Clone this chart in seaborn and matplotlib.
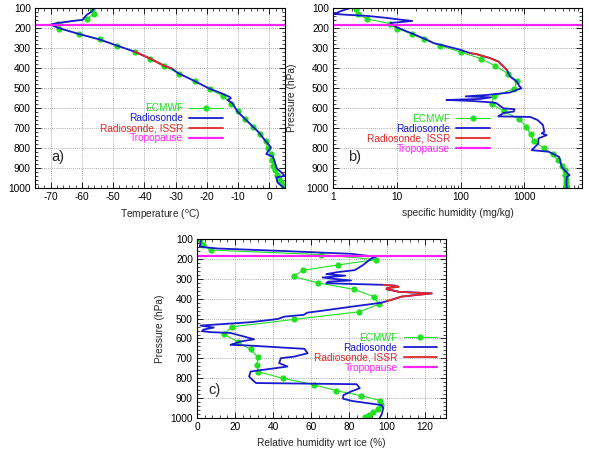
import numpy as np
import pandas as pd
import matplotlib
matplotlib.use("Agg")
import matplotlib.pyplot as plt
import seaborn as sns
from matplotlib.ticker import AutoMinorLocator, MultipleLocator, LogLocator, NullFormatter

sns.set_theme(style="white")
plt.rcParams["font.family"] = ["Liberation Sans", "DejaVu Sans"]
plt.rcParams["mathtext.fontset"] = "custom"
plt.rcParams["mathtext.rm"] = "Liberation Sans"
plt.rcParams["axes.unicode_minus"] = False

GREEN = "#22e022"
BLUE = "#1a1ad0"
RED = "#e02828"
MAGENTA = "#ff22ff"
FS = 7.3

# ECMWF model levels (hPa) and profiles
ec_p = [105, 130, 155, 178, 203, 230, 257, 288, 320, 353, 390, 428, 466, 504, 542,
        579, 617, 655, 695, 732, 767, 800, 832, 862, 888, 912, 935, 955, 972, 986, 996]
ec_temp = [-56.9, -56.2, -58.5, -67.5, -67.2, -60.8, -54.2, -48.6, -43.1, -38.3, -33.7,
           -28.9, -23.9, -19.1, -14.8, -12.2, -10.0, -7.8, -5.1, -3.0, -1.2, -0.5, 0.4,
           0.8, 1.2, 1.7, 2.5, 3.2, 3.8, 4.5, 5.0]
ec_q = [2.3, 2.5, 3.4, 7.8, 10.1, 17.3, 27, 47, 100, 205, 350, 550, 760, 690, 335,
        305, 480, 820, 1070, 1250, 1400, 2000, 2800, 3350, 3900, 4280, 4400, 4450,
        4500, 4500, 4550]
ec_rhi = [1.8, 3.0, 7.1, 65.3, 94.4, 74.1, 55.6, 50.8, 63.5, 82.6, 93.2, 95.7, 85.1,
          50.8, 18.2, 14.1, 21.5, 28.2, 32.1, 31.4, 32.1, 45.0, 61.4, 72.9, 86.5, 96.2,
          96.7, 95.3, 92.7, 90.4, 88.2]

# radiosonde temperature
rs_t_p = [98, 110, 120, 135, 150, 160, 165, 176, 183, 200, 230, 257, 288, 318, 352, 390,
          402, 427, 465, 502, 527, 545, 552, 560, 577, 618, 643, 670, 695, 718, 760, 797,
          805, 830, 843, 902, 925, 940, 947, 973, 998]
rs_temp = [-55.8, -56.5, -57.0, -58.5, -59.3, -59.8, -63.0, -68.0, -70.0, -67.5, -61.0,
           -54.5, -48.8, -43.2, -38.3, -33.6, -31.3, -29.1, -24.0, -19.4, -15.3, -12.7,
           -12.3, -13.4, -11.8, -10.2, -8.6, -6.8, -5.2, -3.6, -1.5, 0.5, 0.1, -1.0, 1.1,
           2.4, 4.0, 4.9, 2.2, 2.6, 4.5]
issr_t_p = [318, 352, 390, 402]
issr_temp = [-43.2, -38.3, -33.6, -31.3]

# radiosonde specific humidity
rs_q_p = [100, 110, 117, 125, 130, 134, 140, 150, 160, 165, 170, 175, 182, 200, 230, 260,
          276, 292, 309, 326, 331, 351, 368, 393, 410, 443, 468, 490, 502, 510, 523, 535,
          542, 547, 555, 560, 565, 573, 577, 602, 606, 618, 625, 635, 642, 645, 660, 685,
          719, 727, 736, 752, 778, 794, 811, 819, 845, 895, 920, 936, 945, 970, 1000]
rs_q = [1.9, 1.5, 1.3, 1.15, 1.05, 1.6, 3.5, 7, 12.5, 17.5, 12, 8, 8.2, 10.5, 18, 30, 38,
        61, 98, 141, 178, 290, 390, 468, 530, 596, 758, 830, 900, 750, 590, 260, 120, 300,
        200, 60, 150, 330, 367, 468, 700, 680, 470, 420, 390, 1230, 1600, 1950, 2050, 1870,
        2230, 1660, 1650, 1470, 1300, 2400, 3500, 3850, 4500, 5100, 4600, 4550, 4600]
issr_q_p = [326, 331, 351, 368, 393, 410]
issr_q = [141, 178, 290, 390, 468, 530]

# radiosonde relative humidity wrt ice
rs_rh_p = [100, 122, 138, 147, 160, 174, 189, 197, 210, 230, 256, 266, 276, 284, 293, 301,
           308, 314, 322, 330, 334, 340, 346, 352, 358, 365, 373, 389, 405, 420, 440, 461,
           470, 481, 490, 502, 518, 535, 545, 555, 563, 568, 572, 590, 604, 615, 632, 635,
           652, 674, 691, 699, 724, 741, 749, 766, 791, 808, 824, 830, 850, 866, 885, 903,
           915, 935, 950, 983, 997]
rs_rhi = [2.1, 1.8, 1.4, 10.6, 45.9, 81.2, 94.0, 91.8, 90.0, 87.4, 83.0, 74.0, 68.0, 78.0,
          66.0, 73.0, 81.0, 69.0, 68.0, 98.0, 104.0, 106.0, 100.0, 99.7, 103.0, 106.0,
          123.5, 107.7, 102.4, 97.0, 81.2, 65.3, 58.0, 56.1, 45.9, 42.4, 28.2, 1.8, 8.8,
          3.5, 2.6, 7.1, 17.6, 24.7, 30.0, 22.9, 17.6, 26.5, 56.5, 58.2, 51.2, 44.1, 43.2,
          47.6, 41.5, 28.2, 27.4, 29.1, 31.0, 84.0, 85.6, 81.2, 77.0, 76.8, 82.0, 97.1,
          98.0, 97.1, 96.2]
issr_rh_p = [330, 334, 340, 346, 352, 358, 365, 373, 389, 405, 410]
issr_rhi = [98.0, 104.0, 106.0, 100.0, 99.7, 103.0, 106.0, 123.5, 107.7, 102.4, 100.0]

tropopause = 185


def draw_panel(ax, ec_x, rs_x, rs_p, issr_x, issr_p, leg_xy):
    sns.lineplot(x=ec_x, y=ec_p, sort=False, estimator=None, color=GREEN, lw=0.8,
                 marker="o", ms=4.5, mew=0, label="ECMWF", ax=ax)
    sns.lineplot(x=rs_x, y=rs_p, sort=False, estimator=None, color=BLUE, lw=1.3,
                 label="Radiosonde", ax=ax)
    sns.lineplot(x=issr_x, y=issr_p, sort=False, estimator=None, color=RED, lw=1.3,
                 label="Radiosonde, ISSR", ax=ax)
    ax.axhline(tropopause, color=MAGENTA, lw=1.6, label="Tropopause")
    ax.set_ylim(1000, 100)
    ax.yaxis.set_major_locator(MultipleLocator(100))
    ax.yaxis.set_minor_locator(AutoMinorLocator(5))
    ax.grid(True, which="major", color="#909090", ls=(0, (1, 1.5)), lw=0.6)
    ax.tick_params(which="both", direction="in", top=True, right=True, bottom=True,
                   left=True, labelsize=FS, pad=3, colors="black")
    ax.tick_params(which="major", length=4, width=0.6)
    ax.tick_params(which="minor", length=2, width=0.5)
    for s in ax.spines.values():
        s.set_color("black")
        s.set_linewidth(0.8)
    ax.legend(loc="center right", bbox_to_anchor=leg_xy, markerfirst=False,
              frameon=False, labelcolor="linecolor", fontsize=FS, handlelength=3.3,
              handletextpad=0.6, labelspacing=0.0, borderpad=0, borderaxespad=0)
    ax.set_ylabel("")


fig = plt.figure(figsize=(5.89, 4.54), dpi=100)
ax_a = fig.add_axes([0.0594, 0.586, 0.4245, 0.3965])
ax_b = fig.add_axes([0.5654, 0.586, 0.4228, 0.3965])
ax_c = fig.add_axes([0.3345, 0.0793, 0.4228, 0.394])

# a) temperature
draw_panel(ax_a, ec_temp, rs_temp, rs_t_p, issr_temp, issr_t_p, (0.75, 0.36))
ax_a.set_xlim(-75, 5)
ax_a.xaxis.set_major_locator(MultipleLocator(10))
ax_a.xaxis.set_minor_locator(AutoMinorLocator(5))
ax_a.set_xlabel(r"Temperature ($^{\rm o}$C)", fontsize=FS, labelpad=4)
ax_a.text(0.09, 0.17, "a)", transform=ax_a.transAxes, fontsize=10.5,
          ha="center", va="center")

# b) specific humidity
draw_panel(ax_b, ec_q, rs_q, rs_q_p, issr_q, issr_q_p, (0.63, 0.30))
ax_b.set_xscale("log")
ax_b.set_xlim(1, 8000)
ax_b.set_xticks([1, 10, 100, 1000])
ax_b.set_xticklabels(["1", "10", "100", "1000"])
ax_b.xaxis.set_minor_locator(LogLocator(base=10, subs=np.arange(2, 10)))
ax_b.xaxis.set_minor_formatter(NullFormatter())
ax_b.set_xlabel("specific humidity (mg/kg)", fontsize=FS, labelpad=4)
ax_b.set_ylabel("Pressure (hPa)", fontsize=FS, labelpad=7)
ax_b.text(0.088, 0.17, "b)", transform=ax_b.transAxes, fontsize=10.5,
          ha="center", va="center")

# c) relative humidity wrt ice
draw_panel(ax_c, ec_rhi, rs_rhi, rs_rh_p, issr_rhi, issr_rh_p, (0.964, 0.366))
ax_c.set_xlim(0, 131)
ax_c.xaxis.set_major_locator(MultipleLocator(20))
ax_c.xaxis.set_minor_locator(AutoMinorLocator(5))
ax_c.set_xlabel("Relative humidity wrt ice (%)", fontsize=FS, labelpad=4)
ax_c.set_ylabel("Pressure (hPa)", fontsize=FS, labelpad=4)
ax_c.text(0.072, 0.156, "c)", transform=ax_c.transAxes, fontsize=10.5,
          ha="center", va="center")

fig.savefig("out.png", dpi=100, facecolor="white")
